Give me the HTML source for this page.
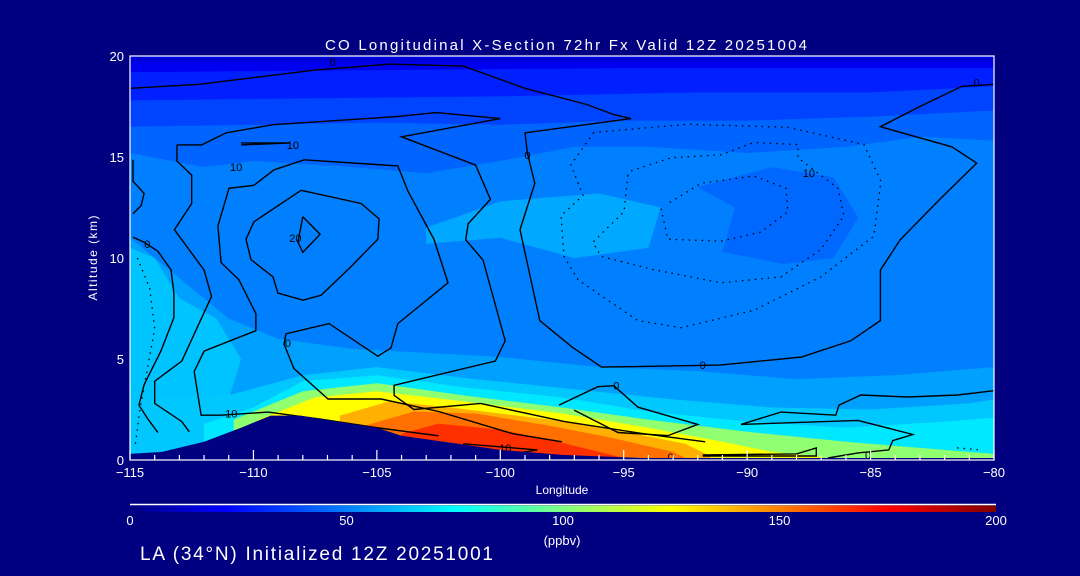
<!DOCTYPE html>
<html><head><meta charset="utf-8">
<style>
html,body{margin:0;padding:0;background:#000080;}
svg{display:block;}
text{font-family:"Liberation Sans",sans-serif;fill:#fff;}
</style></head>
<body>
<svg id="chart" width="1080" height="576" viewBox="0 0 1080 576">
  <defs>
    <linearGradient id="jet" x1="0" x2="1" y1="0" y2="0">
      <stop offset="0" stop-color="#000080"/>
      <stop offset="0.11" stop-color="#0000ff"/>
      <stop offset="0.25" stop-color="#0080ff"/>
      <stop offset="0.375" stop-color="#00ffff"/>
      <stop offset="0.5" stop-color="#80ff80"/>
      <stop offset="0.625" stop-color="#ffff00"/>
      <stop offset="0.75" stop-color="#ff8000"/>
      <stop offset="0.875" stop-color="#ff0000"/>
      <stop offset="1" stop-color="#800000"/>
    </linearGradient>
    <clipPath id="plotclip"><rect x="130" y="56" width="864" height="404"/></clipPath>
  </defs>
  <rect width="1080" height="576" fill="#000080"/>
  <g id="field" clip-path="url(#plotclip)"></g>
  <g id="contours" clip-path="url(#plotclip)"></g>
  <g id="terrain" clip-path="url(#plotclip)"></g>
  <g id="axes"></g>
  <text x="325" y="50" font-size="15" textLength="482" lengthAdjust="spacing">CO Longitudinal X-Section 72hr  Fx Valid 12Z 20251004</text>
  <text x="97" y="258" font-size="12" text-anchor="middle" textLength="85" lengthAdjust="spacing" transform="rotate(-90 97 258)">Altitude (km)</text>
  <text x="562" y="494" font-size="12" text-anchor="middle">Longitude</text>
  <line x1="130" y1="504.5" x2="996" y2="504.5" stroke="#fff" stroke-width="1.5"/>
  <rect x="130" y="505.5" width="866" height="6.5" fill="url(#jet)"/>
  <g id="cbticks"></g>
  <text x="562" y="545" font-size="13" text-anchor="middle">(ppbv)</text>
  <text x="140" y="560" font-size="19" textLength="353" lengthAdjust="spacing">LA (34°N) Initialized 12Z 20251001</text>
</svg>
<script>
// ---- data (lon, alt in km) ----
const xTicks = [-115,-110,-105,-100,-95,-90,-85,-80];
const yTicks = [0,5,10,15,20];
const cbTicks = [0,50,100,150,200];
const terrainLon = [-115,-113.7,-112,-110.5,-109.3,-108.1,-106.1,-105,-104,-102,-100,-97.5,-94.3,-90,-80];
const terrainAlt = [0.3,0.4,0.9,1.6,2.2,2.2,1.8,1.6,1.2,0.85,0.5,0.25,0.1,0.1,0.1];

const bandTop060 = [[-115,15.2],[-112,14.5],[-110,14.8],[-106,14.5],[-103,14.2],[-100,14.8],[-97,15.5],[-94,15.5],[-90,15.2],[-86,15.5],[-83,16],[-80,15.8]];
const bandTop040 = [[-115,16.5],[-110,16.6],[-105,16.7],[-100,16.6],[-95,16.8],[-90,16.8],[-85,17],[-80,17.3]];
const bandTop020 = [[-115,17.8],[-108,17.9],[-100,18],[-92,18.2],[-85,18.2],[-80,18.5]];
const bandTop000 = [[-115,19.2],[-105,19.3],[-95,19.4],[-80,19.4]];
const bandTopTop = [[-115,19.7],[-80,19.7]];
const bandBotA0 = [[-115,11],[-113,9],[-111,7],[-109,6],[-106,5.5],[-103,5.3],[-100,5.1],[-96,4.6],[-92,4.4],[-88,4.0],[-84,4.2],[-80,4.6]];
const bandBotC0 = [[-115,3],[-111,3.2],[-108,4.2],[-105,4.6],[-101,4.0],[-97,3.5],[-93,3.0],[-89,2.6],[-85,2.5],[-81,2.8],[-80,3]];
const bandBotE0 = [[-112,1.8],[-110,2.6],[-108,3.9],[-105,4.2],[-101.5,3.6],[-97.5,3.1],[-94,2.4],[-90,1.9],[-86,1.6],[-82,1.9],[-80,2.1]];
const bandBotGreen = [[-110.8,2.0],[-108,3.4],[-105,3.8],[-101.5,3.2],[-97.5,2.6],[-94,2.0],[-90,1.4],[-86,0.9],[-82,0.5],[-80,0.3]];
const bandBotYel = [[-109.8,2.0],[-107.5,3.1],[-105,3.4],[-101.5,2.9],[-97.5,2.3],[-94,1.6],[-91,0.9],[-89,0.4],[-87,0.15]];
const bandBotAmb = [[-106.5,2.2],[-104.5,2.9],[-102,2.6],[-98,2.0],[-95,1.4],[-92.5,0.8],[-91.5,0.2]];
const bandBotOra = [[-105.5,1.7],[-103.5,2.4],[-101,2.3],[-98,1.7],[-95.5,1.1],[-93,0.4],[-92.5,0.1]];
const bandBotRed = [[-104,1.3],[-102.5,1.8],[-100,1.5],[-98,1.0],[-96,0.4],[-95,0.1]];
const patchDark = [[-92,13.5],[-89,14.5],[-86.5,14],[-85.5,12],[-86.5,10],[-88.5,9.7],[-91,10.3],[-90.5,12.5]];
const patchLightMid = [[-103,11.5],[-100,12.8],[-96,13.2],[-93.5,12.5],[-94,10.5],[-97,10],[-100,11],[-103,10.7]];
const patchLeftCyan = [[-115,10.5],[-114,10],[-113,8],[-111.5,7],[-110.5,5],[-111,3],[-112,2],[-115,1]];

const cSolid = [
 [[-115,18.4],[-112.2,18.6],[-107.5,19.3],[-104.5,19.6],[-101.5,19.5],[-99,18.4],[-96.5,17.6],[-95.4,17.1],[-94.7,16.9],[-99,16.2],[-98.9,15.2],[-98.6,13.7],[-99.2,11.4],[-98.4,6.9],[-97.1,5.6],[-95.9,4.6],[-91.1,4.7],[-87.8,5.1],[-85.8,5.9],[-84.6,6.9],[-84.6,9.4],[-83.8,10.9],[-82.2,12.9],[-80.7,14.7],[-81.7,15.5],[-84.6,16.5],[-83,17.5],[-81.3,18.5],[-80,18.6]],
 [[-113.1,15.6],[-112.1,15.6],[-111.1,16.2],[-109.2,16.6],[-104.2,17.0],[-102.6,17.2],[-100.0,16.9],[-104.0,16.0],[-101.0,14.6],[-100.4,12.9],[-101.3,11.7],[-101.4,10.9],[-100.7,9.9],[-99.8,5.9],[-100.2,4.9],[-104.3,3.7],[-104.3,3.2],[-103.5,2.5],[-100.8,2.8],[-97.4,1.9],[-94.2,1.3],[-91.7,0.9]],
 [[-113.1,15.6],[-113.1,14.8],[-112.5,14.1],[-112.5,12.7],[-113.2,11.4],[-112.0,9.4],[-111.7,8.1],[-112.9,4.9],[-114,3.9],[-114,2.8],[-112.9,1.9],[-112.6,1.4]],
 [[-109.98,13.6],[-109.17,14.36],[-107.95,14.86],[-104.15,14.56],[-103.74,13.3],[-102.69,10.93],[-102.12,8.77],[-104.15,6.75],[-104.43,5.54],[-104.96,5.14],[-106.94,6.75],[-108.68,6.25],[-108.76,5.74],[-108.36,4.53],[-106.98,3.02],[-104.83,3.02],[-102.5,2.4],[-99.5,1.3],[-97.5,0.9]],
 [[-109.98,13.6],[-110.99,13.45],[-111.44,11.59],[-111.31,9.77],[-110.59,8.92],[-109.9,7.25],[-109.9,6.4],[-112.0,5.39],[-112.4,4.38],[-112.12,2.22],[-111.31,2.22],[-109.41,2.37],[-107.26,2.02],[-105,1.6],[-102.5,1.2]],
 [[-108.07,13.35],[-105.64,12.7],[-104.91,11.94],[-104.96,10.93],[-106.05,9.57],[-107.26,8.16],[-107.99,7.91],[-109.01,8.26],[-109.21,9.07],[-110.1,9.92],[-110.3,10.93],[-109.98,11.79],[-108.07,13.35]],
 [[-108.0,12.04],[-107.3,11.18],[-108.0,10.28],[-108.2,10.78],[-108.0,12.04]],
 [[-114.88,14.86],[-114.88,13.8],[-114.43,13.2],[-114.55,12.6],[-114.88,12.19]],
 [[-114.88,11.03],[-114.43,10.78],[-113.87,10.33],[-113.34,9.42],[-113.22,8.26],[-113.22,7.05],[-113.75,5.39],[-114.43,3.73],[-114.64,2.72],[-114.27,2.02],[-113.87,1.36]],
 [[-97.62,2.72],[-96.05,3.63],[-95.4,3.68],[-94.43,2.62],[-92.0,1.76],[-93.21,1.21],[-95.23,1.36],[-97.01,2.47]],
 [[-90.25,1.76],[-88.63,2.37],[-86.41,2.22],[-86.28,2.72],[-85.39,3.22],[-83.49,3.12],[-81.47,3.22],[-80.0,3.43]],
 [[-90.25,1.76],[-85.51,1.96],[-83.29,1.26],[-84.1,0.96],[-84.26,0.5],[-85.51,0.35],[-86.73,0.1]],
 [[-110.5,15.7],[-108.5,15.7],[-110.5,15.6]],
 [[-101.5,0.8],[-98.5,0.5],[-99.5,0.3],[-101.5,0.4]],
 [[-91.8,0.25],[-88,0.3],[-87.2,0.6],[-87.2,0.2],[-91.8,0.2]]
];
const cDotted = [
 [[-96.21,16.22],[-97.14,14.61],[-96.65,13.1],[-97.54,12.09],[-97.42,10.08],[-96.85,8.92],[-94.43,6.9],[-92.68,6.55],[-89.73,7.41],[-87.01,9.07],[-84.87,11.08],[-84.58,13.8],[-85.27,15.62],[-88.35,16.47],[-92.4,16.62],[-96.21,16.22]],
 [[-94.83,14.1],[-94.99,12.29],[-96.25,10.78],[-95.92,10.08],[-93.78,9.42],[-91.06,8.77],[-88.63,9.07],[-87.01,10.43],[-86.08,12.09],[-86.32,13.45],[-87.94,14.96],[-87.94,15.62],[-89.73,15.72],[-91.06,15.11],[-93.09,14.96],[-94.71,14.31],[-94.83,14.1]],
 [[-93.49,12.44],[-93.21,10.93],[-91.06,10.83],[-89.44,11.28],[-88.35,12.29],[-88.43,13.45],[-89.73,14.06],[-91.87,13.7],[-93.21,12.69]],
 [[-114.7,10.0],[-114.2,8.5],[-114.0,6.5],[-114.3,4.5],[-114.6,2.5],[-114.8,0.6]],
 [[-81.5,0.6],[-80.5,0.5]]
];
const contourLabels = [["0",-106.8,19.7],["10",-108.4,15.6],["10",-110.7,14.5],["20",-108.3,11.0],["0",-114.3,10.7],["0",-108.6,5.8],["10",-110.9,2.3],["10",-99.8,0.6],["0",-98.9,15.1],["10",-87.5,14.2],["0",-91.8,4.7],["0",-95.3,3.7],["0",-93.1,0.15],["0",-85.1,0.25],["0",-80.7,18.7]];

// ---- axis functions ----
const X0=130, X1=994, Y0=460, Y1=56;
const xs = lon => X0 + (lon+115)/35*(X1-X0);
const ys = alt => Y0 - alt/20*(Y0-Y1);
const NS='http://www.w3.org/2000/svg';
function mk(tag, attrs, parent){const e=document.createElementNS(NS,tag);for(const k in attrs)e.setAttribute(k,attrs[k]);parent.appendChild(e);return e;}
const ptsStr = arr => arr.map(p=>xs(p[0]).toFixed(1)+','+ys(p[1]).toFixed(1)).join(' ');

const field=document.getElementById('field');
let bg=mk('rect',{x:X0,y:Y1,width:X1-X0,height:Y0-Y1,fill:'#0080ff'},field);



function topBand(arr,color,name){
  const a=[[-115,20]].concat(arr).concat([[-80,20]]);
  const p=mk('polygon',{points:ptsStr(a),fill:color},field);
  
  
}
function botBand(arr,color,name){
  const a=[[arr[0][0],0]].concat(arr).concat([[arr[arr.length-1][0],0]]);
  const p=mk('polygon',{points:ptsStr(a),fill:color},field);
  
  
}
function patch(arr,color,name){
  const p=mk('polygon',{points:ptsStr(arr),fill:color},field);
  
  
}
patch(patchLightMid,'#00a8ff','light-patch-mid');
topBand(bandTop060,'#0064ff','band-upper-1');
patch(patchDark,'#0068ff','dark-patch-east');
topBand(bandTop040,'#0044ff','band-upper-2');
topBand(bandTop020,'#0020ff','band-upper-3');
topBand(bandTop000,'#0000f0','band-upper-4');
topBand(bandTopTop,'#0000d8','band-upper-5');
botBand(bandBotA0,'#00a0ff','band-lower-1');
patch(patchLeftCyan,'#00c4ff','left-cyan-region');
botBand(bandBotC0,'#00c8ff','band-lower-2');
botBand(bandBotE0,'#00e8ff','band-lower-3');
botBand(bandBotGreen,'#90ff70','plume-green');
botBand(bandBotYel,'#ffff00','plume-yellow');
botBand(bandBotAmb,'#ffb000','plume-amber');
botBand(bandBotOra,'#ff7000','plume-orange');
botBand(bandBotRed,'#ff3000','plume-red');

const cg=document.getElementById('contours');
cSolid.forEach(c=>{
  const l=mk('polyline',{points:ptsStr(c),fill:'none',stroke:'#000','stroke-width':1.4},cg);
  
  
});
cDotted.forEach(c=>{
  const l=mk('polyline',{points:ptsStr(c),fill:'none',stroke:'#000','stroke-width':1.3,'stroke-dasharray':'1.5 5'},cg);
  
  
});
contourLabels.forEach(c=>{
  const t=mk('text',{x:xs(c[1]),y:ys(c[2])+4,'font-size':11,'text-anchor':'middle'},cg);
  t.style.fill='#000';
  t.textContent=c[0];
  
  
});

const tg=document.getElementById('terrain');
const tp=[];
terrainLon.forEach((l,i)=>tp.push([l,terrainAlt[i]]));
const terr=mk('polygon',{points:ptsStr([[-115,0]].concat(tp).concat([[-80,0]])),fill:'#000080'},tg);



const ax=document.getElementById('axes');
const fr=mk('rect',{x:X0,y:Y1,width:X1-X0,height:Y0-Y1,fill:'none',stroke:'#fff','stroke-width':1.2},ax);


for(let lon=-115;lon<=-80;lon++){
  const major=(lon%5===0);
  const t=mk('line',{x1:xs(lon),x2:xs(lon),y1:Y0,y2:Y0-(major?10:5),stroke:'#fff','stroke-width':1.2},ax);
  
  
}
xTicks.forEach(v=>{
  const t=mk('text',{x:xs(v),y:477,'font-size':13,'text-anchor':'middle'},ax);
  t.textContent=(v<0?'\u2212'+(-v):v);
  
  
});
yTicks.forEach(v=>{
  const t=mk('text',{x:124,y:ys(v)+5,'font-size':13,'text-anchor':'end'},ax);
  t.textContent=v;
  
  
});
const cb=document.getElementById('cbticks');
cbTicks.forEach(v=>{
  const t=mk('text',{x:130+v/200*866,y:525,'font-size':13,'text-anchor':'middle'},cb);
  t.textContent=v;
  
  
});
</script>
</body></html>
